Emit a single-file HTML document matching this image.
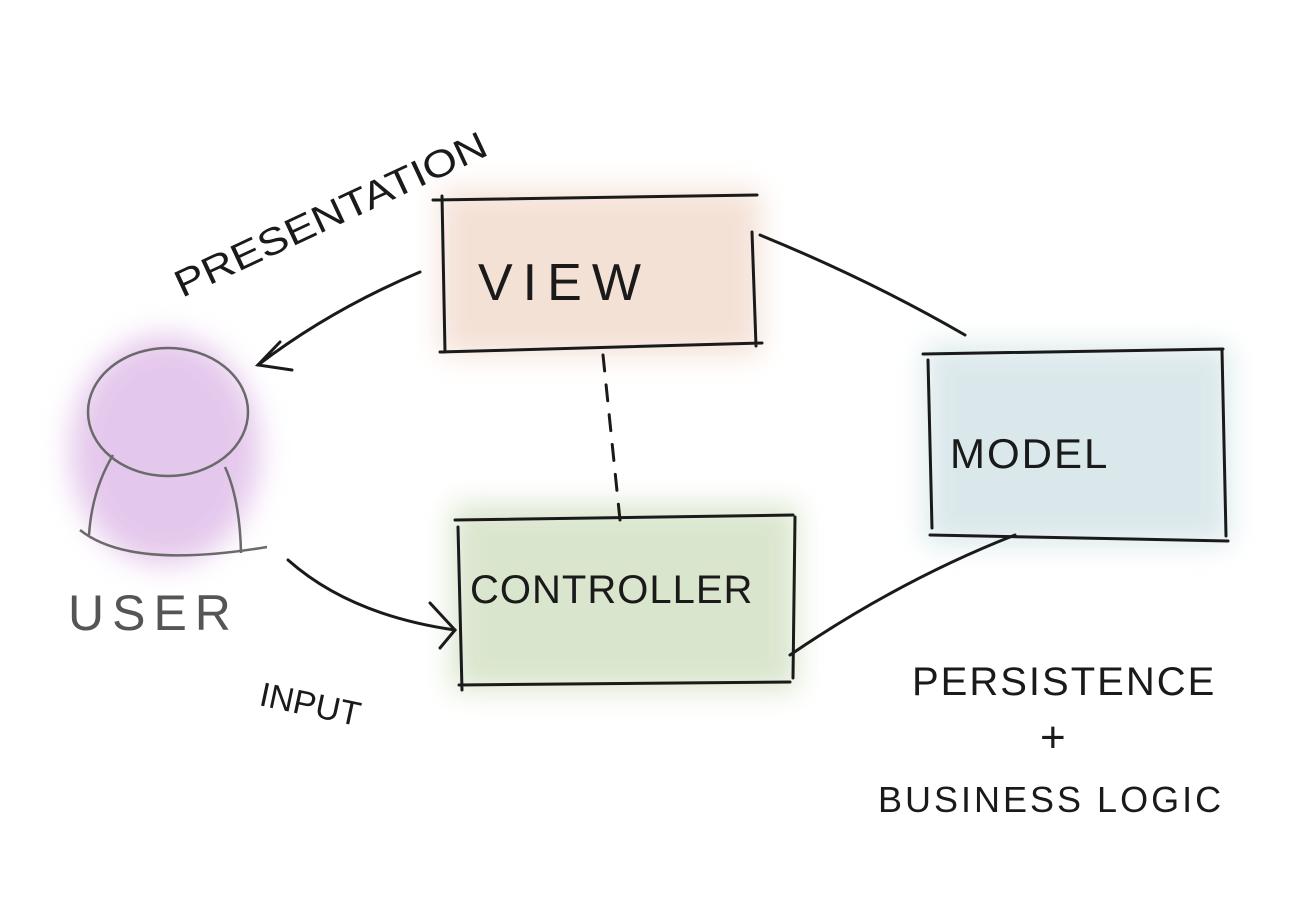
<!DOCTYPE html>
<html><head><meta charset="utf-8"><style>
html,body{margin:0;padding:0;background:#fff;}
svg{display:block}
text{font-family:"Liberation Sans",sans-serif;fill:#1a1a1a;}
</style></head><body>
<svg width="1301" height="915" viewBox="0 0 1301 915" xmlns="http://www.w3.org/2000/svg">
<defs>
<filter id="b" x="-30%" y="-30%" width="160%" height="160%"><feGaussianBlur stdDeviation="14"/></filter>
</defs>
<rect width="1301" height="915" fill="#fff"/>
<rect x="440" y="190" width="320" height="165" fill="#f2dccf" filter="url(#b)" opacity="0.85"/>
<rect x="452" y="505" width="345" height="185" fill="#d6e3c8" filter="url(#b)" opacity="0.9"/>
<rect x="925" y="345" width="305" height="200" fill="#d8e6e9" filter="url(#b)" opacity="0.9"/>
<ellipse cx="165" cy="450" rx="95" ry="115" fill="#e2c2ea" filter="url(#b)" opacity="0.9"/>

<g fill="none" stroke="#1a1a1a" stroke-width="3" stroke-linecap="round">
<path d="M433 200 L757 195 M442 196 L445 352 M440 352 L762 343 M752 232 L756 346"/>
<path d="M455 520 L793 515 M458 527 L462 690 M459 685 L790 682 M795 517 L793 678"/>
<path d="M923 354 L1223 349 M928 360 L932 528 M930 535 L1228 541 M1222 350 L1226 536"/>
<path d="M760 235 Q870 280 965 335"/>
<path d="M790 655 Q900 580 1015 535"/>
<path d="M603 355 L620 520" stroke-dasharray="16 14"/>
<path d="M420 272 Q330 310 258 365"/>
<path d="M280 342 L258 365 L292 370"/>
<path d="M288 560 Q350 615 455 630"/>
<path d="M430 603 L455 630 L440 648"/>
</g>
<g fill="none" stroke="#6a6a6a" stroke-width="2.5">
<ellipse cx="168" cy="412" rx="80" ry="64"/>
<path d="M113 455 Q92 490 89 535"/>
<path d="M225 467 Q240 500 241 553"/>
<path d="M80 530 Q130 570 267 547"/>
</g>
<text x="478" y="300" font-size="52" letter-spacing="10">VIEW</text>
<text x="470" y="603" font-size="40" letter-spacing="1">CONTROLLER</text>
<text x="950" y="468" font-size="42" letter-spacing="2">MODEL</text>
<text x="68" y="630" font-size="50" letter-spacing="8" style="fill:#555">USER</text>
<text transform="translate(182,298) rotate(-25)" font-size="38" textLength="340" lengthAdjust="spacingAndGlyphs">PRESENTATION</text>
<text transform="translate(258,705) rotate(12)" font-size="34">INPUT</text>
<text x="912" y="695" font-size="40" letter-spacing="2">PERSISTENCE</text>
<text x="1040" y="752" font-size="44">+</text>
<text x="878" y="812" font-size="36" letter-spacing="3">BUSINESS LOGIC</text>
</svg>
</body></html>
